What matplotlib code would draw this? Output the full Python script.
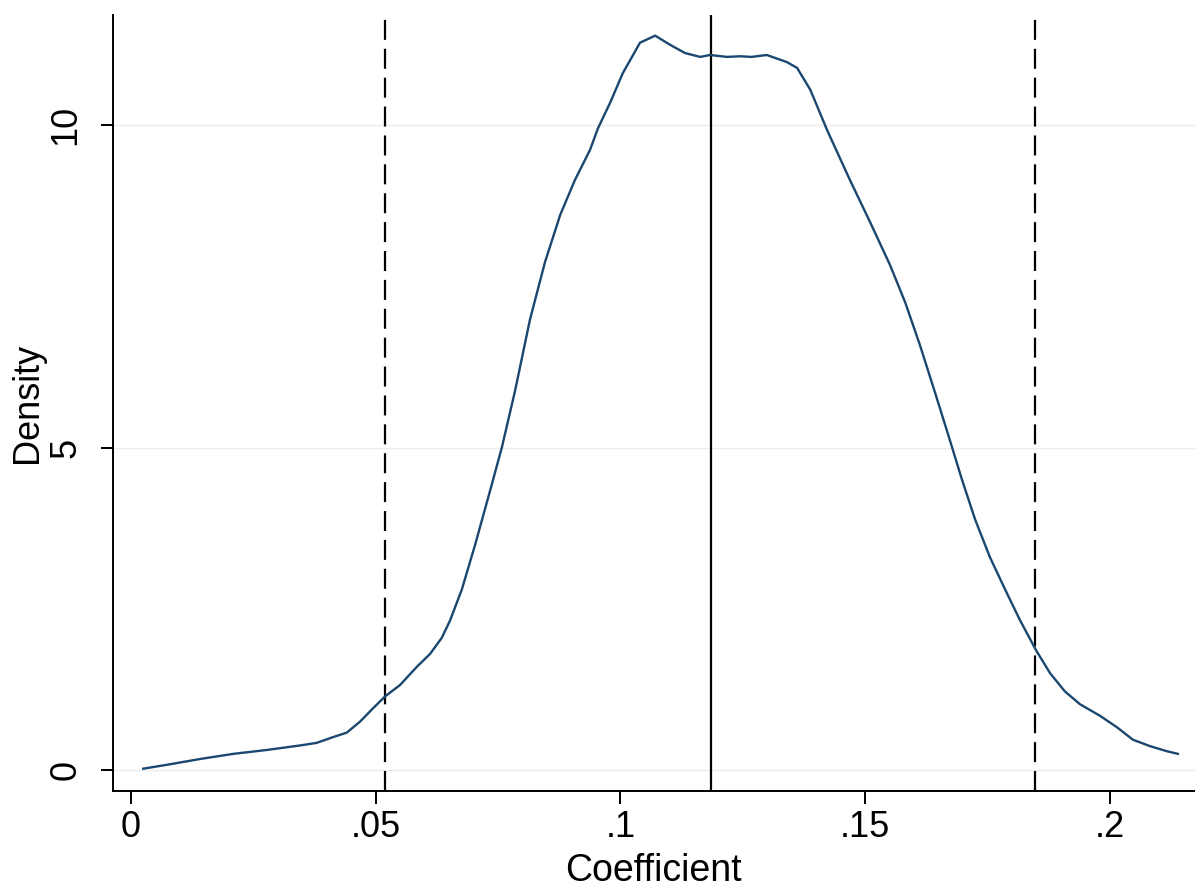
import matplotlib
matplotlib.use("Agg")
import matplotlib.pyplot as plt

# density curve
coef = [0.0025, 0.0073, 0.0141, 0.0209, 0.0277, 0.0345, 0.0379, 0.0413, 0.0441, 0.0468,
        0.0495, 0.0519, 0.0550, 0.0584, 0.0611, 0.0635, 0.0652, 0.0676, 0.0703, 0.0734, 0.0758,
        0.0785, 0.0815, 0.0846, 0.0877, 0.0907, 0.0938, 0.0954, 0.0979, 0.1005, 0.1040,
        0.1071, 0.1101, 0.1132, 0.1163, 0.1183, 0.1218, 0.1244, 0.1268, 0.1299, 0.1340,
        0.1361, 0.1388, 0.1422, 0.1469, 0.1510, 0.1551, 0.1582, 0.1612, 0.1643, 0.1673,
        0.1698, 0.1725, 0.1755, 0.1786, 0.1816, 0.1849, 0.1878, 0.1908, 0.1939, 0.1980,
        0.2015, 0.2047, 0.2082, 0.2117, 0.2139]
density = [0.02, 0.08, 0.17, 0.25, 0.31, 0.38, 0.42, 0.51, 0.58, 0.75,
           0.96, 1.14, 1.32, 1.60, 1.80, 2.05, 2.32, 2.80, 3.49, 4.34, 5.01,
           5.89, 6.98, 7.88, 8.61, 9.15, 9.62, 9.95, 10.35, 10.81, 11.28,
           11.39, 11.25, 11.12, 11.06, 11.09, 11.06, 11.07, 11.06, 11.09, 10.98,
           10.89, 10.55, 9.93, 9.15, 8.50, 7.83, 7.25, 6.59, 5.85, 5.12,
           4.50, 3.88, 3.30, 2.80, 2.33, 1.86, 1.50, 1.22, 1.02, 0.84,
           0.66, 0.47, 0.37, 0.29, 0.25]

point_est = 0.1185
ci_low = 0.0519
ci_high = 0.1848

xticks = [0, 0.05, 0.1, 0.15, 0.2]
xticklabels = ["0", ".05", ".1", ".15", ".2"]
yticks = [0, 5, 10]
yticklabels = ["0", "5", "10"]

plt.rcParams['font.family'] = ['Liberation Sans', 'DejaVu Sans']

fig = plt.figure(figsize=(11.95, 8.88), dpi=100)
ax = fig.add_axes([0.0943, 0.1096, 0.9057, 0.8735])

for t in yticks:
    ax.axhline(t, color="#ececec", lw=1.0, zorder=0)

ax.plot(coef, density, color="#1a476f", lw=1.7, zorder=3)
ax.axvline(point_est, color="black", lw=1.6, zorder=2)
ax.axvline(ci_low, color="black", lw=1.6, ls=(0, (9, 4)), zorder=2)
ax.axvline(ci_high, color="black", lw=1.6, ls=(0, (9, 4)), zorder=2)

ax.set_xlim(-0.00374, 0.2174)
ax.set_ylim(-0.321, 11.71)

ax.set_xticks(xticks)
ax.set_xticklabels(xticklabels)
ax.set_yticks(yticks)
ax.set_yticklabels(yticklabels, rotation=90, va="center")

ax.tick_params(axis="both", length=9, width=1.4, labelsize=26, color="black")
ax.tick_params(axis="x", pad=5)
ax.tick_params(axis="y", pad=12)

for s in ["top", "right"]:
    ax.spines[s].set_visible(False)
for s in ["left", "bottom"]:
    ax.spines[s].set_linewidth(1.4)

ax.set_xlabel("Coefficient", fontsize=27, labelpad=6)
ax.set_ylabel("Density", fontsize=26)
ax.yaxis.set_label_coords(-0.063, 0.5)

fig.savefig("out.png", dpi=100)
